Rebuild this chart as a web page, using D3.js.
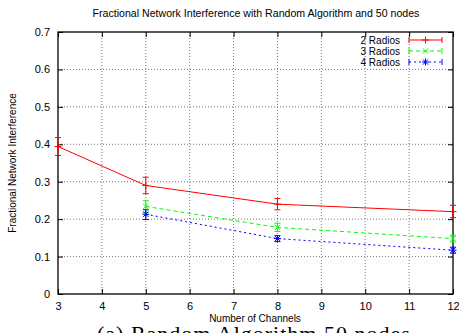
<!DOCTYPE html>
<html><head><meta charset="utf-8">
<script src="https://cdn.jsdelivr.net/npm/d3@7"></script>
<style>body{margin:0;background:#fff;overflow:hidden}svg{display:block}</style>
</head><body>
<script>
const title = "Fractional Network Interference with Random Algorithm and 50 nodes";
const xLabel = "Number of Channels";
const yLabel = "Fractional Network Interference";
const caption = "(a) Random Algorithm 50 nodes";
const xTicks = [3,4,5,6,7,8,9,10,11,12];
const yTicks = [0,0.1,0.2,0.3,0.4,0.5,0.6,0.7];
const seriesNames = ["2 Radios","3 Radios","4 Radios"];
const seriesColors = ["#ff0000","#00ff00","#0000ff"];
const x2 = [3,5,8,12], y2 = [0.394,0.290,0.240,0.220], lo2 = [0.370,0.268,0.225,0.204], hi2 = [0.418,0.312,0.255,0.237];
const x3 = [5,8,12], y3 = [0.234,0.178,0.148], lo3 = [0.218,0.167,0.139], hi3 = [0.249,0.189,0.157];
const x4 = [5,8,12], y4 = [0.213,0.148,0.117], lo4 = [0.199,0.140,0.109], hi4 = [0.225,0.156,0.125];

const SANS="'Liberation Sans', Arial, sans-serif", SERIF="'Liberation Serif', 'DejaVu Serif', serif";
const W=459,H=333, L=58, R=453, T=32, B=294;
const svg=d3.select("body").append("svg").attr("width",W).attr("height",H);
const x=d3.scaleLinear().domain([3,12]).range([L,R]);
const y=d3.scaleLinear().domain([0,0.7]).range([B,T]);

const g=svg.append("g");
xTicks.slice(1,-1).forEach(t=>g.append("line").attr("x1",x(t)).attr("x2",x(t)).attr("y1",T).attr("y2",B)
  .attr("stroke","#555").attr("stroke-width",0.8).attr("stroke-dasharray","1,2"));
yTicks.slice(1,-1).forEach(t=>g.append("line").attr("x1",L).attr("x2",R).attr("y1",y(t)).attr("y2",y(t))
  .attr("stroke","#555").attr("stroke-width",0.8).attr("stroke-dasharray","1,2"));

const ax=svg.append("g").attr("transform",`translate(0,${B})`).call(d3.axisBottom(x).tickValues(xTicks).tickSize(-5).tickPadding(8).tickFormat(d3.format("d")));
const axT=svg.append("g").attr("transform",`translate(0,${T})`).call(d3.axisTop(x).tickValues(xTicks).tickSize(-5).tickFormat(""));
const ay=svg.append("g").attr("transform",`translate(${L},0)`).call(d3.axisLeft(y).tickValues(yTicks).tickSize(-5).tickPadding(8).tickFormat(d=>d===0?"0":d3.format(".1f")(d)));
const ayR=svg.append("g").attr("transform",`translate(${R},0)`).call(d3.axisRight(y).tickValues(yTicks).tickSize(-5).tickFormat(""));
[ax,axT,ay,ayR].forEach(a=>{a.select(".domain").remove();a.attr("font-family",null).attr("font-size",null);
  a.selectAll("line").attr("stroke","#000");
  a.selectAll("text").style("font-size","11px").attr("fill","#000").style("font-family",SANS);});
svg.append("rect").attr("x",L).attr("y",T).attr("width",R-L).attr("height",B-T).attr("fill","none").attr("stroke","#000").attr("stroke-width",1.3);

const txt=(xx,yy,s,fs,anchor)=>svg.append("text").attr("x",xx).attr("y",yy).attr("text-anchor",anchor||"middle")
  .style("font-family",SANS).style("font-size",fs+"px").attr("fill","#000").text(s);
txt(256,17,title,10.6);
txt(255,322,xLabel,10);
svg.append("text").attr("transform",`translate(16,${(T+B)/2}) rotate(-90)`).attr("text-anchor","middle")
  .style("font-family",SANS).style("font-size","10px").text(yLabel);
svg.append("text").attr("x",97).attr("y",341).style("font-size","22px").style("font-family",SERIF)
  .style("letter-spacing","1px").text(caption);

const series=[
 {xs:x2,ys:y2,lo:lo2,hi:hi2,dash:null,mark:"plus"},
 {xs:x3,ys:y3,lo:lo3,hi:hi3,dash:"4,3",mark:"x"},
 {xs:x4,ys:y4,lo:lo4,hi:hi4,dash:"2,3",mark:"star"}];

function marker(sel,cx,cy,type,col){
  const s=3.5;
  const seg=(a,b,c,d)=>sel.append("line").attr("x1",a).attr("y1",b).attr("x2",c).attr("y2",d).attr("stroke",col).attr("stroke-width",1);
  if(type==="plus"||type==="star"){seg(cx-s,cy,cx+s,cy);seg(cx,cy-s,cx,cy+s);}
  if(type==="x"||type==="star"){seg(cx-s*0.75,cy-s*0.75,cx+s*0.75,cy+s*0.75);seg(cx-s*0.75,cy+s*0.75,cx+s*0.75,cy-s*0.75);}
}
const line=d3.line().x(d=>x(d[0])).y(d=>y(d[1]));
series.forEach((s,i)=>{
  const col=seriesColors[i];
  const pts=s.xs.map((v,j)=>[v,s.ys[j]]);
  const p=svg.append("path").datum(pts).attr("d",line).attr("fill","none").attr("stroke",col).attr("stroke-width",1);
  if(s.dash)p.attr("stroke-dasharray",s.dash);
  s.xs.forEach((v,j)=>{
    const cx=x(v);
    const eb=svg.append("g").attr("stroke",col).attr("stroke-width",1);
    eb.append("line").attr("x1",cx).attr("x2",cx).attr("y1",y(s.lo[j])).attr("y2",y(s.hi[j]));
    [s.lo[j],s.hi[j]].forEach(e=>eb.append("line").attr("x1",cx-3).attr("x2",cx+3).attr("y1",y(e)).attr("y2",y(e)));
    marker(svg,cx,y(s.ys[j]),s.mark,col);
  });
  const ly=40+i*11;
  txt(400,ly+3.5,seriesNames[i],10,"end");
  const lg=svg.append("g").attr("stroke",col).attr("stroke-width",1);
  const ll=lg.append("line").attr("x1",409).attr("x2",442).attr("y1",ly).attr("y2",ly);
  if(s.dash)ll.attr("stroke-dasharray",s.dash);
  [409,442].forEach(ex=>lg.append("line").attr("x1",ex).attr("x2",ex).attr("y1",ly-3).attr("y2",ly+3));
  marker(svg,425.5,ly,s.mark,col);
});
</script>
</body></html>
